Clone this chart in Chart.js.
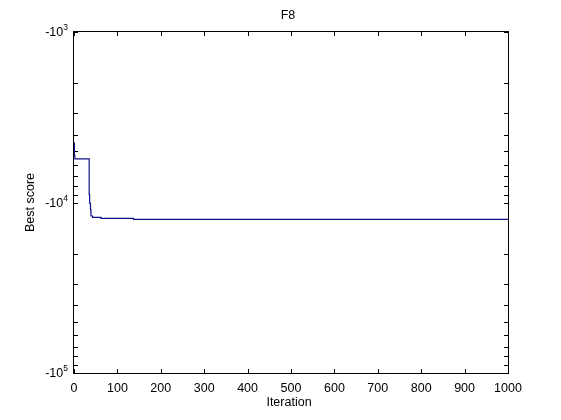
<!DOCTYPE html>
<html>
<head>
<meta charset="utf-8">
<script src="https://cdn.jsdelivr.net/npm/chart.js@4"></script>
<style>
html,body{margin:0;padding:0;background:#fff;}
#wrap{width:561px;height:420px;}
</style>
</head>
<body>
<div id="wrap"><canvas id="c" width="561" height="420"></canvas></div>
<script>
// Data (step changes of the best score)
const iterations = [0, 1, 2, 35, 36, 38, 39, 43, 62, 137, 1000];
const bestScores = [-4480, -5300, -5550, -9000, -10100, -11000, -12000, -12210, -12380, -12550, -12550];
const xTicks = [0, 100, 200, 300, 400, 500, 600, 700, 800, 900, 1000];
const yExponents = [3, 4, 5];
const titleText = 'F8';
const xLabel = 'Iteration';
const yLabel = 'Best score';

const FONT = '12.5px "Liberation Sans", Arial, sans-serif';
const SUPFONT = '8.5px "Liberation Sans", Arial, sans-serif';

const axesPlugin = {
  id: 'matlabAxes',
  beforeDatasetsDraw(chart) {
    const ctx = chart.ctx;
    const a = chart.chartArea;
    const xs = chart.scales.x, ys = chart.scales.y;
    const L = 4;
    ctx.save();
    ctx.strokeStyle = '#000';
    ctx.lineWidth = 1;
    ctx.strokeRect(Math.round(a.left) - 0.5, Math.round(a.top) - 0.5,
                   Math.round(a.right - a.left) + 1, Math.round(a.bottom - a.top) + 1);
    ctx.beginPath();
    xTicks.forEach(v => {
      const px = Math.round(xs.getPixelForValue(v)) + 0.5;
      ctx.moveTo(px, a.bottom); ctx.lineTo(px, a.bottom - L);
      ctx.moveTo(px, a.top); ctx.lineTo(px, a.top + L);
    });
    const yv = [];
    for (let i = 0; i < yExponents.length; i++) {
      const base = Math.pow(10, yExponents[i]);
      yv.push(base);
      if (i < yExponents.length - 1) for (let m = 2; m <= 9; m++) yv.push(m * base);
    }
    yv.forEach(v => {
      const py = Math.round(ys.getPixelForValue(v)) + 0.5;
      ctx.moveTo(a.left, py); ctx.lineTo(a.left + L, py);
      ctx.moveTo(a.right, py); ctx.lineTo(a.right - L, py);
    });
    ctx.stroke();
    ctx.restore();
  },
  afterDraw(chart) {
    const ctx = chart.ctx;
    const a = chart.chartArea;
    const xs = chart.scales.x, ys = chart.scales.y;
    ctx.save();
    ctx.fillStyle = '#000';
    ctx.font = FONT;
    ctx.textAlign = 'center'; ctx.textBaseline = 'top';
    xTicks.forEach(v => ctx.fillText(String(v), xs.getPixelForValue(v), a.bottom + 9));
    yExponents.forEach(k => {
      const py = ys.getPixelForValue(Math.pow(10, k));
      ctx.font = SUPFONT;
      const sw = ctx.measureText(String(k)).width;
      ctx.textAlign = 'right'; ctx.textBaseline = 'alphabetic';
      ctx.fillText(String(k), a.left - 6, py - 2);
      ctx.font = FONT;
      ctx.textBaseline = 'middle';
      ctx.fillText('-10', a.left - 6 - sw, py + 1);
    });
    const cx = (a.left + a.right) / 2;
    ctx.textAlign = 'center'; ctx.textBaseline = 'middle';
    ctx.fillText(titleText, cx - 3, 16);
    ctx.fillText(xLabel, cx - 2, 403);
    ctx.save();
    ctx.translate(31, (a.top + a.bottom) / 2);
    ctx.rotate(-Math.PI / 2);
    ctx.fillText(yLabel, 0, 0);
    ctx.restore();
    ctx.restore();
  }
};

new Chart(document.getElementById('c'), {
  type: 'line',
  data: {
    datasets: [{
      data: iterations.map((it, i) => ({ x: it, y: -bestScores[i] })),
      borderColor: '#10108a',
      borderWidth: 1.2,
      pointRadius: 0,
      stepped: 'before',
      fill: false,
      tension: 0
    }]
  },
  options: {
    responsive: false,
    animation: false,
    devicePixelRatio: 1,
    layout: { padding: { left: 74, right: 53, top: 32, bottom: 47 } },
    plugins: { legend: { display: false }, tooltip: { enabled: false }, title: { display: false } },
    scales: {
      x: { type: 'linear', min: 0, max: 1000, display: false },
      y: { type: 'logarithmic', min: 1000, max: 100000, reverse: true, display: false }
    }
  },
  plugins: [axesPlugin]
});
</script>
</body>
</html>
